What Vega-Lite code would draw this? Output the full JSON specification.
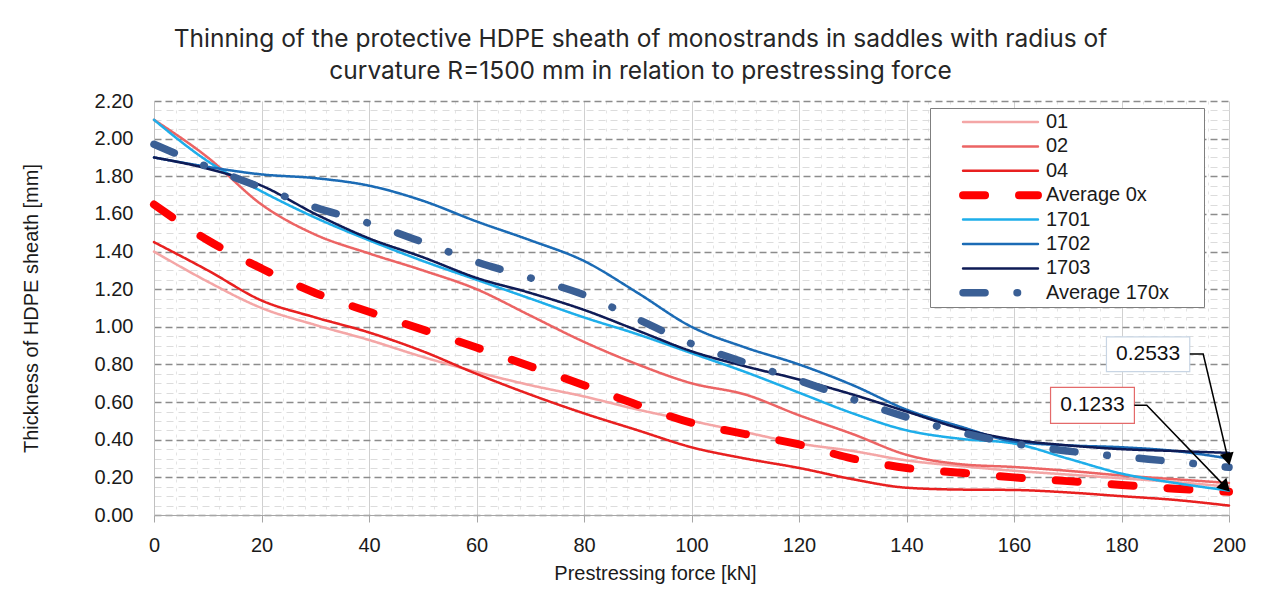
{
  "$schema": "https://vega.github.io/schema/vega-lite/v6.json",
  "width": 1075,
  "height": 414,
  "autosize": {"type": "none"},
  "padding": {"left": 154, "top": 101, "right": 51, "bottom": 85},
  "background": "white",
  "config": {
    "view": {"stroke": null},
    "font": "Liberation Sans",
    "axis": {"labelFont": "Liberation Sans", "titleFont": "Liberation Sans", "titleFontWeight": "normal"}
  },
  "title": {
    "text": ["Thinning of the protective HDPE sheath of monostrands in saddles with radius of", "curvature R=1500 mm in relation to prestressing force"],
    "font": "Inter",
    "fontSize": 24.5,
    "fontWeight": "normal",
    "color": "#262626",
    "anchor": "middle",
    "frame": "group",
    "dx": -51,
    "offset": 7,
    "lineHeight": 32
  },
  "datasets": {
    "series": [
      {"series": "01", "kN": 0, "v": 1.40}, {"series": "01", "kN": 10, "v": 1.24}, {"series": "01", "kN": 20, "v": 1.10}, {"series": "01", "kN": 30, "v": 1.01}, {"series": "01", "kN": 40, "v": 0.93}, {"series": "01", "kN": 50, "v": 0.84}, {"series": "01", "kN": 60, "v": 0.76}, {"series": "01", "kN": 70, "v": 0.69}, {"series": "01", "kN": 80, "v": 0.63}, {"series": "01", "kN": 90, "v": 0.56}, {"series": "01", "kN": 100, "v": 0.50}, {"series": "01", "kN": 110, "v": 0.44}, {"series": "01", "kN": 120, "v": 0.38}, {"series": "01", "kN": 130, "v": 0.34}, {"series": "01", "kN": 140, "v": 0.29}, {"series": "01", "kN": 150, "v": 0.26}, {"series": "01", "kN": 160, "v": 0.235}, {"series": "01", "kN": 170, "v": 0.215}, {"series": "01", "kN": 180, "v": 0.195}, {"series": "01", "kN": 190, "v": 0.175}, {"series": "01", "kN": 200, "v": 0.15},
      {"series": "02", "kN": 0, "v": 2.10}, {"series": "02", "kN": 10, "v": 1.90}, {"series": "02", "kN": 20, "v": 1.65}, {"series": "02", "kN": 30, "v": 1.49}, {"series": "02", "kN": 40, "v": 1.39}, {"series": "02", "kN": 50, "v": 1.30}, {"series": "02", "kN": 60, "v": 1.20}, {"series": "02", "kN": 70, "v": 1.06}, {"series": "02", "kN": 80, "v": 0.92}, {"series": "02", "kN": 90, "v": 0.80}, {"series": "02", "kN": 100, "v": 0.70}, {"series": "02", "kN": 110, "v": 0.64}, {"series": "02", "kN": 120, "v": 0.53}, {"series": "02", "kN": 130, "v": 0.43}, {"series": "02", "kN": 140, "v": 0.32}, {"series": "02", "kN": 150, "v": 0.27}, {"series": "02", "kN": 160, "v": 0.255}, {"series": "02", "kN": 170, "v": 0.235}, {"series": "02", "kN": 180, "v": 0.21}, {"series": "02", "kN": 190, "v": 0.19}, {"series": "02", "kN": 200, "v": 0.17},
      {"series": "04", "kN": 0, "v": 1.45}, {"series": "04", "kN": 10, "v": 1.30}, {"series": "04", "kN": 20, "v": 1.14}, {"series": "04", "kN": 30, "v": 1.05}, {"series": "04", "kN": 40, "v": 0.97}, {"series": "04", "kN": 50, "v": 0.87}, {"series": "04", "kN": 60, "v": 0.75}, {"series": "04", "kN": 70, "v": 0.64}, {"series": "04", "kN": 80, "v": 0.54}, {"series": "04", "kN": 90, "v": 0.45}, {"series": "04", "kN": 100, "v": 0.36}, {"series": "04", "kN": 110, "v": 0.30}, {"series": "04", "kN": 120, "v": 0.25}, {"series": "04", "kN": 130, "v": 0.19}, {"series": "04", "kN": 140, "v": 0.145}, {"series": "04", "kN": 150, "v": 0.135}, {"series": "04", "kN": 160, "v": 0.133}, {"series": "04", "kN": 170, "v": 0.12}, {"series": "04", "kN": 180, "v": 0.10}, {"series": "04", "kN": 190, "v": 0.08}, {"series": "04", "kN": 200, "v": 0.05},
      {"series": "Average 0x", "kN": 0, "v": 1.65}, {"series": "Average 0x", "kN": 10, "v": 1.46}, {"series": "Average 0x", "kN": 20, "v": 1.31}, {"series": "Average 0x", "kN": 30, "v": 1.18}, {"series": "Average 0x", "kN": 40, "v": 1.08}, {"series": "Average 0x", "kN": 50, "v": 0.985}, {"series": "Average 0x", "kN": 60, "v": 0.89}, {"series": "Average 0x", "kN": 70, "v": 0.79}, {"series": "Average 0x", "kN": 80, "v": 0.69}, {"series": "Average 0x", "kN": 90, "v": 0.585}, {"series": "Average 0x", "kN": 100, "v": 0.49}, {"series": "Average 0x", "kN": 110, "v": 0.43}, {"series": "Average 0x", "kN": 120, "v": 0.375}, {"series": "Average 0x", "kN": 130, "v": 0.30}, {"series": "Average 0x", "kN": 140, "v": 0.25}, {"series": "Average 0x", "kN": 150, "v": 0.225}, {"series": "Average 0x", "kN": 160, "v": 0.20}, {"series": "Average 0x", "kN": 170, "v": 0.18}, {"series": "Average 0x", "kN": 180, "v": 0.16}, {"series": "Average 0x", "kN": 190, "v": 0.14}, {"series": "Average 0x", "kN": 200, "v": 0.1233},
      {"series": "1701", "kN": 0, "v": 2.10}, {"series": "1701", "kN": 10, "v": 1.88}, {"series": "1701", "kN": 20, "v": 1.72}, {"series": "1701", "kN": 30, "v": 1.58}, {"series": "1701", "kN": 40, "v": 1.46}, {"series": "1701", "kN": 50, "v": 1.35}, {"series": "1701", "kN": 60, "v": 1.25}, {"series": "1701", "kN": 70, "v": 1.15}, {"series": "1701", "kN": 80, "v": 1.05}, {"series": "1701", "kN": 90, "v": 0.96}, {"series": "1701", "kN": 100, "v": 0.86}, {"series": "1701", "kN": 110, "v": 0.76}, {"series": "1701", "kN": 120, "v": 0.65}, {"series": "1701", "kN": 130, "v": 0.54}, {"series": "1701", "kN": 140, "v": 0.45}, {"series": "1701", "kN": 150, "v": 0.405}, {"series": "1701", "kN": 160, "v": 0.38}, {"series": "1701", "kN": 170, "v": 0.30}, {"series": "1701", "kN": 180, "v": 0.22}, {"series": "1701", "kN": 190, "v": 0.17}, {"series": "1701", "kN": 200, "v": 0.13},
      {"series": "1702", "kN": 0, "v": 1.90}, {"series": "1702", "kN": 10, "v": 1.85}, {"series": "1702", "kN": 20, "v": 1.81}, {"series": "1702", "kN": 30, "v": 1.79}, {"series": "1702", "kN": 40, "v": 1.75}, {"series": "1702", "kN": 50, "v": 1.67}, {"series": "1702", "kN": 60, "v": 1.56}, {"series": "1702", "kN": 70, "v": 1.46}, {"series": "1702", "kN": 80, "v": 1.35}, {"series": "1702", "kN": 90, "v": 1.18}, {"series": "1702", "kN": 100, "v": 1.00}, {"series": "1702", "kN": 110, "v": 0.89}, {"series": "1702", "kN": 120, "v": 0.80}, {"series": "1702", "kN": 130, "v": 0.69}, {"series": "1702", "kN": 140, "v": 0.56}, {"series": "1702", "kN": 150, "v": 0.47}, {"series": "1702", "kN": 160, "v": 0.39}, {"series": "1702", "kN": 170, "v": 0.37}, {"series": "1702", "kN": 180, "v": 0.36}, {"series": "1702", "kN": 190, "v": 0.34}, {"series": "1702", "kN": 200, "v": 0.30},
      {"series": "1703", "kN": 0, "v": 1.90}, {"series": "1703", "kN": 10, "v": 1.84}, {"series": "1703", "kN": 20, "v": 1.75}, {"series": "1703", "kN": 30, "v": 1.60}, {"series": "1703", "kN": 40, "v": 1.47}, {"series": "1703", "kN": 50, "v": 1.37}, {"series": "1703", "kN": 60, "v": 1.26}, {"series": "1703", "kN": 70, "v": 1.18}, {"series": "1703", "kN": 80, "v": 1.09}, {"series": "1703", "kN": 90, "v": 0.98}, {"series": "1703", "kN": 100, "v": 0.87}, {"series": "1703", "kN": 110, "v": 0.79}, {"series": "1703", "kN": 120, "v": 0.72}, {"series": "1703", "kN": 130, "v": 0.64}, {"series": "1703", "kN": 140, "v": 0.55}, {"series": "1703", "kN": 150, "v": 0.46}, {"series": "1703", "kN": 160, "v": 0.40}, {"series": "1703", "kN": 170, "v": 0.37}, {"series": "1703", "kN": 180, "v": 0.35}, {"series": "1703", "kN": 190, "v": 0.34}, {"series": "1703", "kN": 200, "v": 0.33},
      {"series": "Average 170x", "kN": 0, "v": 1.97}, {"series": "Average 170x", "kN": 10, "v": 1.85}, {"series": "Average 170x", "kN": 20, "v": 1.74}, {"series": "Average 170x", "kN": 30, "v": 1.635}, {"series": "Average 170x", "kN": 40, "v": 1.55}, {"series": "Average 170x", "kN": 50, "v": 1.45}, {"series": "Average 170x", "kN": 60, "v": 1.345}, {"series": "Average 170x", "kN": 70, "v": 1.26}, {"series": "Average 170x", "kN": 80, "v": 1.17}, {"series": "Average 170x", "kN": 90, "v": 1.04}, {"series": "Average 170x", "kN": 100, "v": 0.91}, {"series": "Average 170x", "kN": 110, "v": 0.81}, {"series": "Average 170x", "kN": 120, "v": 0.715}, {"series": "Average 170x", "kN": 130, "v": 0.615}, {"series": "Average 170x", "kN": 140, "v": 0.52}, {"series": "Average 170x", "kN": 150, "v": 0.44}, {"series": "Average 170x", "kN": 160, "v": 0.38}, {"series": "Average 170x", "kN": 170, "v": 0.34}, {"series": "Average 170x", "kN": 180, "v": 0.31}, {"series": "Average 170x", "kN": 190, "v": 0.283}, {"series": "Average 170x", "kN": 200, "v": 0.2533}
    ],
    "boxes": [
      {"label": "0.2533", "kN": 177.2, "kN2": 192.7, "v": 0.947, "v2": 0.762},
      {"label": "0.1233", "kN": 166.8, "kN2": 182.4, "v": 0.678, "v2": 0.487}
    ],
    "labels": [
      {"label": "0.2533", "kN": 184.95, "v": 0.855},
      {"label": "0.1233", "kN": 174.6, "v": 0.583}
    ],
    "arrows": [
      {"arrow": "a1", "o": 1, "kN": 192.7, "v": 0.855},
      {"arrow": "a1", "o": 2, "kN": 195.2, "v": 0.855},
      {"arrow": "a1", "o": 3, "kN": 199.74, "v": 0.307},
      {"arrow": "a2", "o": 1, "kN": 182.4, "v": 0.583},
      {"arrow": "a2", "o": 2, "kN": 184.7, "v": 0.583},
      {"arrow": "a2", "o": 3, "kN": 199.1, "v": 0.156}
    ],
    "heads": [
      {"arrow": "a1", "kN": 199.74, "v": 0.307},
      {"arrow": "a2", "kN": 199.1, "v": 0.156}
    ]
  },
  "encoding": {
    "x": {
      "field": "kN",
      "type": "quantitative",
      "scale": {"domain": [0, 200], "nice": false, "zero": false},
      "title": "Prestressing force [kN]",
      "axis": {
        "values": [0, 4, 8, 12, 16, 20, 24, 28, 32, 36, 40, 44, 48, 52, 56, 60, 64, 68, 72, 76, 80, 84, 88, 92, 96, 100, 104, 108, 112, 116, 120, 124, 128, 132, 136, 140, 144, 148, 152, 156, 160, 164, 168, 172, 176, 180, 184, 188, 192, 196, 200],
        "labelExpr": "datum.value % 20 == 0 ? datum.label : ''",
        "labelOverlap": false,
        "labelFlush": false,
        "labelFontSize": 20,
        "labelColor": "#1a1a1a",
        "labelPadding": 13,
        "tickSize": 7,
        "tickColor": "#a6a6a6",
        "tickOpacity": {"condition": {"test": "datum.value % 20 == 0", "value": 1}, "value": 0},
        "domainColor": "#a6a6a6",
        "grid": true,
        "gridColor": {"condition": {"test": "datum.value % 20 == 0", "value": "#d0d0d0"}, "value": "#e4e4e4"},
        "gridDash": {"condition": {"test": "datum.value % 20 == 0", "value": []}, "value": [3, 6]},
        "titleFontSize": 20,
        "titleColor": "#1a1a1a",
        "titlePadding": 8,
        "titleX": 501
      }
    },
    "y": {
      "field": "v",
      "type": "quantitative",
      "scale": {"domain": [0, 2.2], "nice": false},
      "title": "Thickness of HDPE sheath [mm]",
      "axis": {
        "values": [0, 0.05, 0.1, 0.15, 0.2, 0.25, 0.3, 0.35, 0.4, 0.45, 0.5, 0.55, 0.6, 0.65, 0.7, 0.75, 0.8, 0.85, 0.9, 0.95, 1, 1.05, 1.1, 1.15, 1.2, 1.25, 1.3, 1.35, 1.4, 1.45, 1.5, 1.55, 1.6, 1.65, 1.7, 1.75, 1.8, 1.85, 1.9, 1.95, 2, 2.05, 2.1, 2.15, 2.2],
        "labelExpr": "round(datum.value * 20) % 4 == 0 ? format(datum.value, '.2f') : ''",
        "labelOverlap": false,
        "labelFontSize": 20,
        "labelColor": "#1a1a1a",
        "labelPadding": 21,
        "ticks": false,
        "tickSize": 0,
        "domainColor": "#c0c0c0",
        "grid": true,
        "gridColor": {"condition": {"test": "round(datum.value * 20) % 4 == 0", "value": "#8c8c8c"}, "value": "#dcdcdc"},
        "gridDash": {"condition": {"test": "round(datum.value * 20) % 4 == 0", "value": [7, 4]}, "value": [7, 5]},
        "gridWidth": {"condition": {"test": "round(datum.value * 20) % 4 == 0", "value": 1.5}, "value": 1},
        "titleFontSize": 20,
        "titleColor": "#1a1a1a",
        "titlePadding": 53
      }
    }
  },
  "layer": [
    {
      "data": {"name": "series"},
      "mark": {"type": "line", "interpolate": "monotone", "strokeCap": "round", "strokeJoin": "round"},
      "encoding": {
        "color": {
          "field": "series",
          "type": "nominal",
          "scale": {
            "domain": ["01", "02", "04", "Average 0x", "1701", "1702", "1703", "Average 170x"],
            "range": ["#f4a6a6", "#ec6464", "#e82020", "#ff0000", "#1eaeea", "#1b6bb5", "#0e1b56", "#3a5f95"]
          },
          "legend": {
            "orient": "none", "legendX": 776, "legendY": 7, "title": " ", "titleOrient": "right", "titleFontSize": 1, "titlePadding": 31,
            "symbolType": "M-10.7,0L10.7,0", "symbolSize": 49, "symbolOffset": 56.5, "labelOffset": 35.5,
            "labelFont": "Liberation Sans", "labelFontSize": 20, "labelColor": "#1a1a1a",
            "strokeColor": "#7f7f7f", "fillColor": "white", "padding": 4, "rowPadding": 4.4,
            "encode": {"symbols": {"update": {"strokeCap": {"value": "round"}, "strokeJoin": {"value": "round"}, "strokeWidth": {"signal": "datum.value === 'Average 0x' ? 8 : datum.value === 'Average 170x' ? 7.5 : 2.5"}}}}
          }
        },
        "strokeDash": {
          "field": "series",
          "type": "nominal",
          "scale": {
            "domain": ["01", "02", "04", "Average 0x", "1701", "1702", "1703", "Average 170x"],
            "range": [[1, 0], [1, 0], [1, 0], [22, 34], [1, 0], [1, 0], [1, 0], [22, 32, 0.5, 32]]
          },
          "legend": {
            "orient": "none", "legendX": 776, "legendY": 7, "title": " ", "titleOrient": "right", "titleFontSize": 1, "titlePadding": 31,
            "symbolType": "M-10.7,0L10.7,0", "symbolSize": 49, "symbolOffset": 56.5, "labelOffset": 35.5,
            "labelFont": "Liberation Sans", "labelFontSize": 20, "labelColor": "#1a1a1a",
            "strokeColor": "#7f7f7f", "fillColor": "white", "padding": 4, "rowPadding": 4.4,
            "encode": {"symbols": {"update": {"strokeCap": {"value": "round"}, "strokeJoin": {"value": "round"}, "strokeWidth": {"signal": "datum.value === 'Average 0x' ? 8 : datum.value === 'Average 170x' ? 7.5 : 2.5"}}}}
          }
        },
        "strokeWidth": {
          "condition": [
            {"test": "datum.series === 'Average 0x'", "value": 8},
            {"test": "datum.series === 'Average 170x'", "value": 7.5}
          ],
          "value": 2.5
        }
      }
    },
    {
      "data": {"name": "boxes"},
      "mark": {"type": "rect", "fill": "white", "strokeWidth": 1.2},
      "encoding": {
        "x2": {"field": "kN2"},
        "y2": {"field": "v2"},
        "stroke": {
          "field": "label", "type": "nominal",
          "scale": {"domain": ["0.2533", "0.1233"], "range": ["#c8d5e4", "#e46a6a"]},
          "legend": null
        }
      }
    },
    {
      "data": {"name": "labels"},
      "mark": {"type": "text", "font": "Liberation Sans", "fontSize": 21, "color": "#111111", "baseline": "middle", "align": "center"},
      "encoding": {"text": {"field": "label", "type": "nominal"}}
    },
    {
      "data": {"name": "arrows"},
      "mark": {"type": "line", "color": "#000000", "strokeWidth": 1.5},
      "encoding": {
        "detail": {"field": "arrow", "type": "nominal"},
        "order": {"field": "o", "type": "quantitative"}
      }
    },
    {
      "data": {"name": "heads"},
      "transform": [{"filter": "datum.arrow === 'a1'"}],
      "mark": {"type": "point", "shape": "triangle", "filled": true, "color": "#000000", "opacity": 1, "size": 200, "angle": 166.8}
    },
    {
      "data": {"name": "heads"},
      "transform": [{"filter": "datum.arrow === 'a2'"}],
      "mark": {"type": "point", "shape": "triangle", "filled": true, "color": "#000000", "opacity": 1, "size": 200, "angle": 135.8}
    }
  ]
}
